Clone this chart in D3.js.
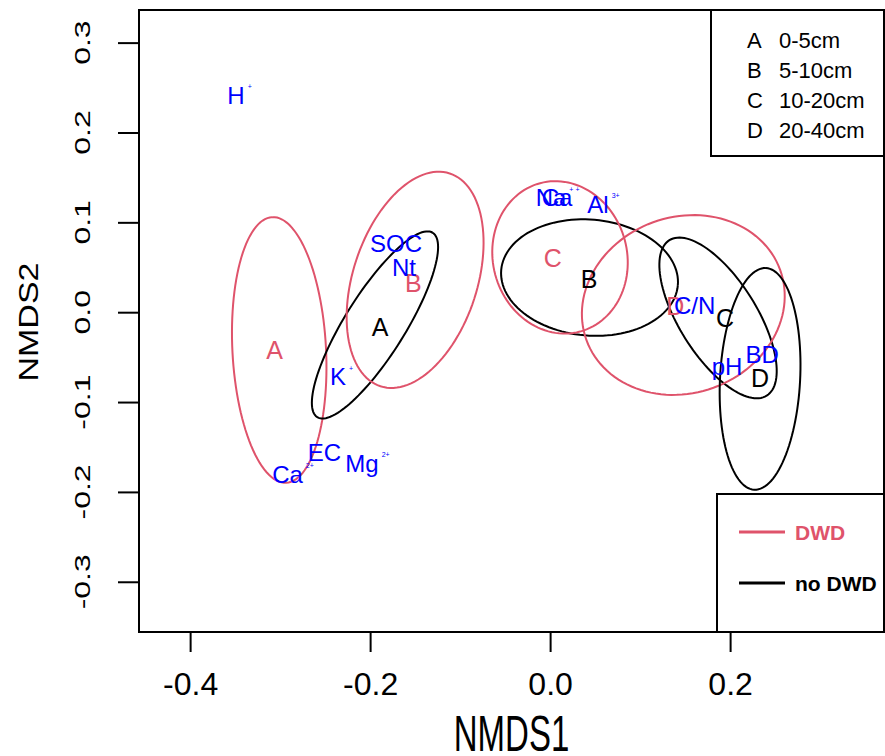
<!DOCTYPE html>
<html lang="en">
<head>
    <meta charset="UTF-8">
    <title>NMDS ellipses - DWD / no DWD</title>
    <script src="https://cdn.jsdelivr.net/npm/d3@7"></script>
    <style>
        body { margin: 0; background: #fff; }
        svg { font-family: "Liberation Sans", Arial, Helvetica, sans-serif; }
    </style>
</head>
<body>
<svg id="chart" width="885" height="756"></svg>
<script>
    // depth groups
    const groups = ["A", "B", "C", "D"];
    const depthLabels = ["0-5cm", "5-10cm", "10-20cm", "20-40cm"];

    // DWD ellipses (NMDS units, angle in degrees)
    const dwdCx = [-0.301, -0.150, 0.011, 0.148];
    const dwdCy = [-0.042, 0.036, 0.061, 0.008];
    const dwdA = [0.148, 0.1245, 0.0855, 0.1145];
    const dwdB = [0.052, 0.069, 0.0745, 0.098];
    const dwdAngle = [93, 72, 105, 20];
    const dwdLabelX = [-0.306, -0.152, 0.003, 0.139];
    const dwdLabelY = [-0.042, 0.0325, 0.0605, 0.007];

    // no DWD ellipses
    const noDwdCx = [-0.1946, 0.0438, 0.1866, 0.2333];
    const noDwdCy = [-0.0142, 0.0385, -0.0064, -0.0742];
    const noDwdA = [0.121, 0.0985, 0.102, 0.1235];
    const noDwdB = [0.0335, 0.0645, 0.043, 0.0445];
    const noDwdAngle = [58, -5, -58, 87];
    const noDwdLabelX = [-0.189, 0.0432, 0.1943, 0.2333];
    const noDwdLabelY = [-0.0164, 0.037, -0.0065, -0.0731];

    // soil variables
    const varNames = ["H", "SOC", "Nt", "K", "EC", "Mg", "Ca", "Na", "Ca", "Al", "C/N", "pH", "BD"];
    const varSup = ["+", "", "", "+", "", "2+", "2+", "+", "+", "3+", "", "", ""];
    const varX = [-0.349, -0.1712, -0.1623, -0.2357, -0.2507, -0.209, -0.2918, 0.001, 0.0077, 0.0532, 0.1605, 0.1966, 0.2355];
    const varY = [0.2412, 0.0765, 0.0497, -0.0716, -0.1561, -0.1678, -0.1801, 0.1276, 0.1276, 0.1199, 0.008, -0.0604, -0.0465];

    const xTicks = [-0.4, -0.2, 0.0, 0.2];
    const yTicks = [-0.3, -0.2, -0.1, 0.0, 0.1, 0.2, 0.3];

    const red = "#DF536B";
    const blue = "#0000FF";

    const m = { left: 139, right: 884, top: 10, bottom: 632 };
    const svg = d3.select("#chart");

    const x = d3.scaleLinear().domain([-0.4568, 0.371]).range([m.left, m.right]);
    const y = d3.scaleLinear().domain([-0.3559, 0.3363]).range([m.bottom, m.top]);

    // x axis
    const gx = svg.append("g")
        .attr("transform", `translate(0,${m.bottom})`)
        .call(d3.axisBottom(x).tickValues(xTicks).tickSize(20).tickPadding(20)
            .tickFormat(d => d.toFixed(1)));
    gx.select(".domain").remove();
    gx.selectAll(".tick line").attr("stroke", "#000").attr("stroke-width", 2);
    gx.selectAll(".tick text").attr("font-size", 32).attr("font-family", "Liberation Sans, Arial, sans-serif").attr("fill", "#000");

    // y axis (labels drawn separately, they are squeezed across)
    const gy = svg.append("g")
        .attr("transform", `translate(${m.left},0)`)
        .call(d3.axisLeft(y).tickValues(yTicks).tickSize(21).tickFormat(""));
    gy.select(".domain").remove();
    gy.selectAll(".tick line").attr("stroke", "#000").attr("stroke-width", 2);

    svg.append("g").selectAll("text")
        .data(yTicks)
        .join("text")
        .attr("transform", d => `translate(90,${y(d)}) scale(0.68,1) rotate(-90)`)
        .attr("text-anchor", "middle")
        .attr("font-size", 32)
        .text(d => d.toFixed(1));

    // axis titles
    svg.append("text")
        .attr("transform", `translate(${(m.left + m.right) / 2},751) scale(1,1.5)`)
        .attr("text-anchor", "middle")
        .attr("font-size", 33)
        .text("NMDS1");
    svg.append("text")
        .attr("transform", `translate(38,${(m.top + m.bottom) / 2 + 1}) scale(0.82,1) rotate(-90)`)
        .attr("text-anchor", "middle")
        .attr("font-size", 34)
        .text("NMDS2");

    // ellipses
    const line = d3.line().x(p => x(p[0])).y(p => y(p[1]));
    function ellipse(cx, cy, a, b, deg) {
        const th = deg * Math.PI / 180;
        return d3.range(0, 121).map(i => {
            const t = i / 120 * 2 * Math.PI;
            return [cx + a * Math.cos(t) * Math.cos(th) - b * Math.sin(t) * Math.sin(th),
                    cy + a * Math.cos(t) * Math.sin(th) + b * Math.sin(t) * Math.cos(th)];
        });
    }

    const plot = svg.append("g");
    groups.forEach((g, i) => {
        plot.append("path")
            .attr("d", line(ellipse(dwdCx[i], dwdCy[i], dwdA[i], dwdB[i], dwdAngle[i])))
            .attr("fill", "none").attr("stroke", red).attr("stroke-width", 2);
        plot.append("path")
            .attr("d", line(ellipse(noDwdCx[i], noDwdCy[i], noDwdA[i], noDwdB[i], noDwdAngle[i])))
            .attr("fill", "none").attr("stroke", "#000").attr("stroke-width", 2);
    });

    groups.forEach((g, i) => {
        plot.append("text")
            .attr("x", x(dwdLabelX[i])).attr("y", y(dwdLabelY[i]))
            .attr("dy", "0.36em").attr("text-anchor", "middle")
            .attr("font-size", 25).attr("fill", red).text(g);
        plot.append("text")
            .attr("x", x(noDwdLabelX[i])).attr("y", y(noDwdLabelY[i]))
            .attr("dy", "0.36em").attr("text-anchor", "middle")
            .attr("font-size", 25).attr("fill", "#000").text(g);
    });

    // variable labels with tiny superscripts
    varNames.forEach((name, i) => {
        const t = plot.append("text")
            .attr("x", x(varX[i])).attr("y", y(varY[i]))
            .attr("dy", "0.36em").attr("text-anchor", "middle")
            .attr("font-size", 24).attr("fill", blue).text(name);
        if (varSup[i]) {
            const w = t.node().getComputedTextLength();
            plot.append("text")
                .attr("x", x(varX[i]) + w / 2 + 3)
                .attr("y", y(varY[i]) - 6)
                .attr("font-size", 7).attr("fill", blue).text(varSup[i]);
        }
    });

    // plot frame
    svg.append("rect")
        .attr("x", m.left).attr("y", m.top)
        .attr("width", m.right - m.left).attr("height", m.bottom - m.top)
        .attr("fill", "none").attr("stroke", "#000").attr("stroke-width", 2);

    // depth legend
    const lg1 = svg.append("g");
    lg1.append("rect")
        .attr("x", 711).attr("y", m.top).attr("width", m.right - 711).attr("height", 156 - m.top)
        .attr("fill", "#fff").attr("stroke", "#000").attr("stroke-width", 2);
    groups.forEach((g, i) => {
        lg1.append("text").attr("x", 747).attr("y", 48 + i * 30)
            .attr("font-size", 22).text(g);
        lg1.append("text").attr("x", 779).attr("y", 48 + i * 30)
            .attr("font-size", 22).text(depthLabels[i]);
    });

    // treatment legend
    const treatments = ["DWD", "no DWD"];
    const treatColors = [red, "#000"];
    const lg2 = svg.append("g");
    lg2.append("rect")
        .attr("x", 717).attr("y", 494).attr("width", m.right - 717).attr("height", m.bottom - 494)
        .attr("fill", "#fff").attr("stroke", "#000").attr("stroke-width", 2);
    treatments.forEach((t, i) => {
        const ly = 532 + i * 51;
        lg2.append("line")
            .attr("x1", 739).attr("x2", 785).attr("y1", ly).attr("y2", ly)
            .attr("stroke", treatColors[i]).attr("stroke-width", 3);
        lg2.append("text").attr("x", 795).attr("y", ly + 8)
            .attr("font-size", 21).attr("font-weight", "bold")
            .attr("fill", treatColors[i]).text(t);
    });
</script>
</body>
</html>
